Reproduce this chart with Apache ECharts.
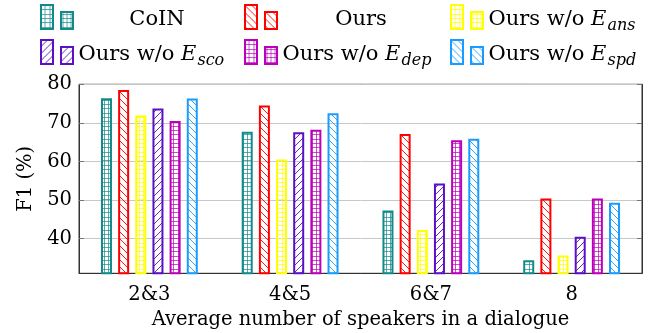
<!DOCTYPE html>
<html><head><meta charset="utf-8">
<script src="https://cdn.jsdelivr.net/npm/echarts@6/dist/echarts.min.js"></script>
<style>html,body{margin:0;padding:0;background:#fff}#c{width:670px;height:333px}</style>
</head><body><div id="c"></div>
<script>
// ---- data ----
const categories = ['2&3', '4&5', '6&7', '8'];
const seriesNames = ['CoIN', 'Ours', 'Ours w/o E_ans', 'Ours w/o E_sco', 'Ours w/o E_dep', 'Ours w/o E_spd'];
const coin  = [76.4, 67.7, 47.3, 34.4];
const ours  = [78.5, 74.5, 67.1, 50.4];
const woAns = [71.9, 60.5, 42.2, 35.6];
const woSco = [73.7, 67.6, 54.3, 40.5];
const woDep = [70.5, 68.2, 65.5, 50.4];
const woSpd = [76.3, 72.5, 65.9, 49.3];
const yTicks = [40, 50, 60, 70, 80];
const yMin = 31, yMax = 80;

// ---- styles ----
const FONT = '"DejaVu Serif", "Liberation Serif", serif';
const FS = 19.5;
const LFS = 21;
const colors = ['#128a8a', '#ff0000', '#ffff00', '#5a10c4', '#bb00bb', '#1a9cff'];
const patterns = ['grid', 'nw', 'grid', 'ne', 'grid', 'nw'];
const values = [coin, ours, woAns, woSco, woDep, woSpd];

function makePattern(kind, col) {
  const s = 7;
  const size = kind === 'grid' ? 13 : s;
  const cv = document.createElement('canvas');
  cv.width = size; cv.height = size;
  const ctx = cv.getContext('2d');
  ctx.strokeStyle = col;
  ctx.globalAlpha = kind === 'grid' ? 0.7 : 0.9;
  ctx.lineWidth = 1;
  ctx.beginPath();
  if (kind === 'grid') {
    for (let i = 0; i < 3; i++) {
      const p = Math.round(i * size / 3) + 0.5;
      ctx.moveTo(p, 0); ctx.lineTo(p, size);
      ctx.moveTo(0, p); ctx.lineTo(size, p);
    }
  } else if (kind === 'nw') {
    for (let k = -1; k <= 1; k++) { ctx.moveTo(k * s, 0); ctx.lineTo(k * s + s, s); }
  } else {
    for (let k = -1; k <= 1; k++) { ctx.moveTo(k * s, s); ctx.lineTo(k * s + s, 0); }
  }
  ctx.stroke();
  return { image: cv, repeat: 'repeat' };
}

const ICON = 'path://M0,0H12V24H0Z M20,7H32V24H20Z';
const richBase = {
  n: { fontFamily: FONT, fontSize: LFS, color: '#000', padding: [5, 0, 0, 0] },
  e: { fontFamily: FONT, fontSize: LFS, fontStyle: 'italic', color: '#000', padding: [5, 0, 0, 0] },
  s: { fontFamily: FONT, fontSize: 16, fontStyle: 'italic', color: '#000', padding: [18, 0, 0, 1] },
  c: { fontFamily: FONT, fontSize: LFS, color: '#000', width: 157, align: 'center', padding: [5, 0, 0, 0] }
};
function labelOf(name) {
  const m = name.match(/^(.*)E_(\w+)$/);
  if (m) return '{n|' + m[1] + '}{e|E}{s|' + m[2] + '}';
  return '{c|' + name + '}';
}
const legendPos = [[40, 4], [244, 4], [450, 4], [40, 39], [244, 39], [450, 39]];
const legends = seriesNames.map((nm, i) => ({
  data: [nm], left: legendPos[i][0], top: legendPos[i][1], orient: 'horizontal',
  icon: ICON, itemWidth: 33, itemHeight: 24, padding: 0, itemGap: 0,
  selectedMode: false,
  formatter: labelOf,
  textStyle: { fontFamily: FONT, fontSize: LFS, color: '#000', rich: richBase }
}));

const series = seriesNames.map((nm, i) => ({
  name: nm, type: 'bar', yAxisIndex: 0,
  data: values[i],
  barWidth: 11, barGap: '56%',
  itemStyle: { color: makePattern(patterns[i], colors[i]), borderColor: colors[i], borderWidth: 2 },
  emphasis: { disabled: true }
}));

const chart = echarts.init(document.getElementById('c'), null, { renderer: 'canvas' });
chart.setOption({
  animation: false,
  backgroundColor: '#fff',
  legend: legends,
  grid: { left: 79, right: 28, top: 84.3, bottom: 59.7, outerBoundsMode: 'none', containLabel: false,
          show: true, borderColor: '#333', borderWidth: 1, backgroundColor: 'transparent' },
  xAxis: {
    type: 'category', data: categories,
    axisLine: { show: true, lineStyle: { color: '#333', width: 1 } },
    axisTick: { show: false },
    axisLabel: { fontFamily: FONT, fontSize: FS, color: '#000', margin: 12 },
    name: 'Average number of speakers in a dialogue', nameLocation: 'middle', nameGap: 35,
    nameTextStyle: { fontFamily: FONT, fontSize: FS, color: '#000', verticalAlign: 'top' }
  },
  yAxis: [{
    type: 'value', min: yMin, max: yMax,
    axisLine: { show: true, lineStyle: { color: '#333', width: 1 } },
    axisTick: { show: true, inside: true, length: 5, customValues: yTicks, lineStyle: { color: '#777' } },
    axisLabel: { fontFamily: FONT, fontSize: FS, color: '#000', margin: 7, customValues: yTicks },
    splitLine: { show: true, lineStyle: { color: '#c8c8c8', width: 1 } },
    name: 'F1 (%)', nameLocation: 'middle', nameGap: 40, nameRotate: 90,
    nameTextStyle: { fontFamily: FONT, fontSize: FS, color: '#000' }
  }, {
    type: 'value', min: yMin, max: yMax, position: 'right',
    axisLine: { show: true, lineStyle: { color: '#333', width: 1 } },
    axisTick: { show: true, inside: true, length: 5, customValues: yTicks, lineStyle: { color: '#777' } },
    axisLabel: { show: false },
    splitLine: { show: false }
  }],
  series: series
});
</script>
</body></html>
